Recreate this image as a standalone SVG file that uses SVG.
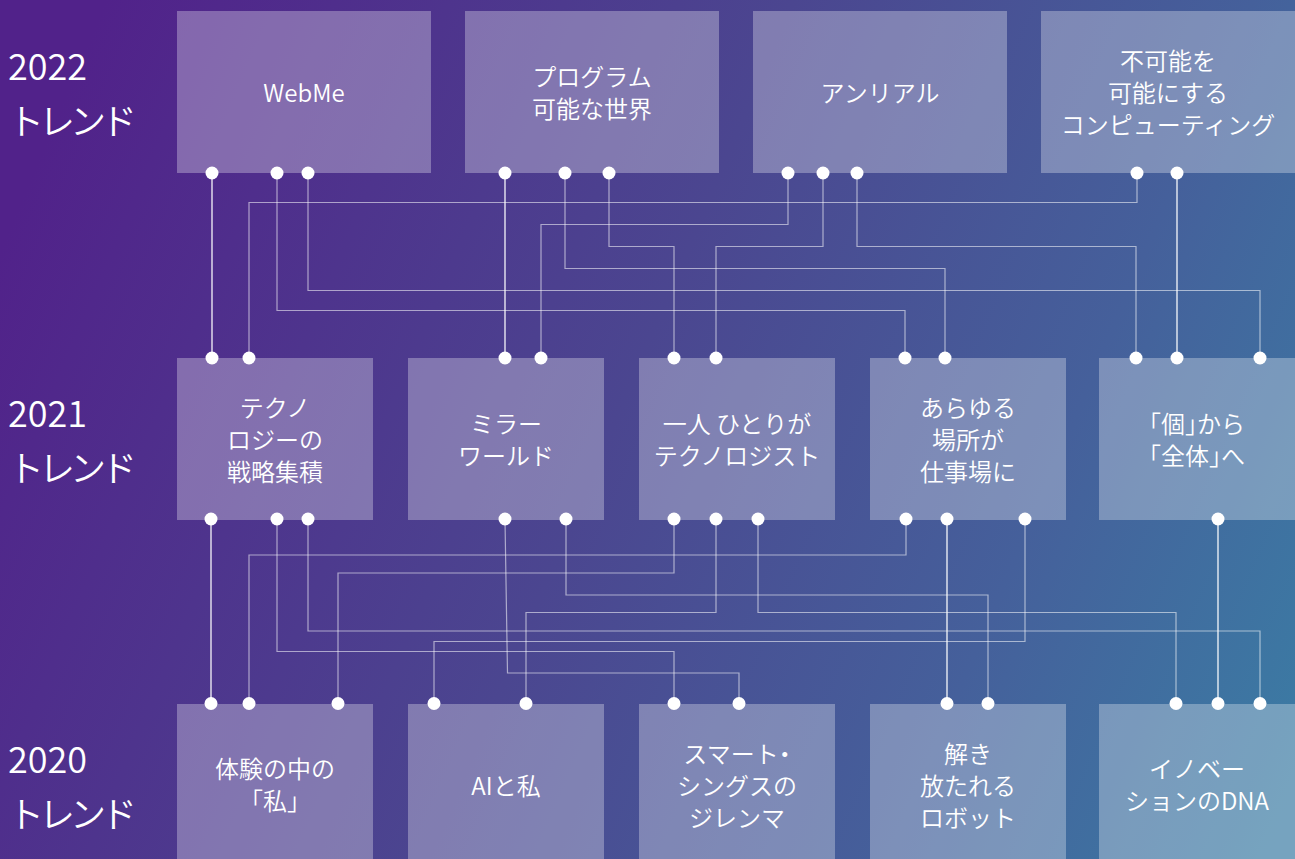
<svg xmlns="http://www.w3.org/2000/svg" width="1295" height="859" viewBox="0 0 1295 859">
<defs>
<linearGradient id="bg" gradientUnits="userSpaceOnUse" x1="0" y1="250" x2="1295" y2="800">
<stop offset="0" stop-color="#51228a"/>
<stop offset="0.45" stop-color="#4b4690"/>
<stop offset="0.75" stop-color="#45609b"/>
<stop offset="1" stop-color="#3b7ca4"/>
</linearGradient>
<style>
.box{fill:#ffffff;fill-opacity:0.3}
.lbl{font-family:"Noto Sans CJK JP","Noto Sans",sans-serif;font-size:24px;font-weight:350;fill:#ffffff;text-anchor:middle}
.yr{font-family:"Noto Sans CJK JP","Noto Sans",sans-serif;font-size:36px;font-weight:350;fill:#ffffff}
.yr2{letter-spacing:-5px}
.half{font-feature-settings:"halt"}
.ln{fill:none;stroke:#ffffff;stroke-opacity:0.55;stroke-width:1.2}
.st{fill:none;stroke:#ffffff;stroke-opacity:0.95;stroke-width:1.3}
.dot{fill:#ffffff}
</style>
</defs>
<rect x="0" y="0" width="1295" height="859" fill="url(#bg)"/>

<g id="year-labels">
<text class="yr" x="8" y="80">2022</text>
<text class="yr yr2" x="8" y="135">トレンド</text>
<text class="yr" x="8" y="427">2021</text>
<text class="yr yr2" x="8" y="482">トレンド</text>
<text class="yr" x="8" y="773">2020</text>
<text class="yr yr2" x="8" y="828">トレンド</text>
</g>

<g id="n-webme"><rect class="box" x="177" y="11" width="254" height="162"/><text class="lbl" x="304" y="102">WebMe</text></g>
<g id="n-program"><rect class="box" x="465" y="11" width="254" height="162"/><text class="lbl" x="592"><tspan x="592" y="86">プログラム</tspan><tspan x="592" y="118">可能な世界</tspan></text></g>
<g id="n-unreal"><rect class="box" x="753" y="11" width="254" height="162"/><text class="lbl" x="880" y="102">アンリアル</text></g>
<g id="n-computing"><rect class="box" x="1041" y="11" width="254" height="162"/><text class="lbl" x="1168"><tspan x="1168" y="70">不可能を</tspan><tspan x="1168" y="102">可能にする</tspan><tspan x="1168" y="134">コンピューティング</tspan></text></g>

<g id="n-tech"><rect class="box" x="177" y="358" width="196" height="162"/><text class="lbl"><tspan x="275" y="417">テクノ</tspan><tspan x="275" y="449">ロジーの</tspan><tspan x="275" y="481">戦略集積</tspan></text></g>
<g id="n-mirror"><rect class="box" x="408" y="358" width="196" height="162"/><text class="lbl"><tspan x="506" y="433">ミラー</tspan><tspan x="506" y="465">ワールド</tspan></text></g>
<g id="n-technologist"><rect class="box" x="639" y="358" width="196" height="162"/><text class="lbl"><tspan x="737" y="433">一人 ひとりが</tspan><tspan x="737" y="465">テクノロジスト</tspan></text></g>
<g id="n-workplace"><rect class="box" x="870" y="358" width="196" height="162"/><text class="lbl"><tspan x="968" y="417">あらゆる</tspan><tspan x="968" y="449">場所が</tspan><tspan x="968" y="481">仕事場に</tspan></text></g>
<g id="n-whole"><rect class="box" x="1099" y="358" width="196" height="162"/><text class="lbl half"><tspan x="1197" y="433">「個」から</tspan><tspan x="1197" y="465">「全体」へ</tspan></text></g>

<g id="n-experience"><rect class="box" x="177" y="704" width="196" height="162"/><text class="lbl half"><tspan x="275" y="778">体験の中の</tspan><tspan x="275" y="810">「私」</tspan></text></g>
<g id="n-ai"><rect class="box" x="408" y="704" width="196" height="162"/><text class="lbl" x="506" y="795">AIと私</text></g>
<g id="n-smart"><rect class="box" x="639" y="704" width="196" height="162"/><text class="lbl half"><tspan x="737" y="763">スマート・</tspan><tspan x="737" y="795">シングスの</tspan><tspan x="737" y="827">ジレンマ</tspan></text></g>
<g id="n-robot"><rect class="box" x="870" y="704" width="196" height="162"/><text class="lbl"><tspan x="968" y="763">解き</tspan><tspan x="968" y="795">放たれる</tspan><tspan x="968" y="827">ロボット</tspan></text></g>
<g id="n-dna"><rect class="box" x="1099" y="704" width="196" height="162"/><text class="lbl"><tspan x="1197" y="778">イノベー</tspan><tspan x="1197" y="810">ションのDNA</tspan></text></g>

<g id="connectors">
<path class="st" d="M212,173V358M505,173V358M1177,173V358"/>
<path class="ln" d="M1137,173V202.5H249V358"/>
<path class="ln" d="M788,173V224.5H541V358"/>
<path class="ln" d="M609,173V246.5H674V358"/>
<path class="ln" d="M823,173V246.5H716V358"/>
<path class="ln" d="M857,173V246.5H1136V358"/>
<path class="ln" d="M565,173V268.5H945V358"/>
<path class="ln" d="M308,173V290.5H1260V358"/>
<path class="ln" d="M277,173V310.5H905V358"/>

<path class="st" d="M211,520V704M947,520V704M1218,520V704"/>
<path class="ln" d="M906,520V555H249V704"/>
<path class="ln" d="M674,520V573H338V704"/>
<path class="ln" d="M566,520V595H988V704"/>
<path class="ln" d="M716,520V612.5H526V704"/>
<path class="ln" d="M758,520V612.5H1176V704"/>
<path class="ln" d="M308,520V631H1260V704"/>
<path class="ln" d="M1025,520V641.5H434V704"/>
<path class="ln" d="M277,520V651.5H674V704"/>
<path class="ln" d="M505,520L507.5,673H739V704"/>

<g class="dot">
<circle cx="212" cy="173" r="6.5"/><circle cx="277" cy="173" r="6.5"/><circle cx="308" cy="173" r="6.5"/>
<circle cx="505" cy="173" r="6.5"/><circle cx="565" cy="173" r="6.5"/><circle cx="609" cy="173" r="6.5"/>
<circle cx="788" cy="173" r="6.5"/><circle cx="823" cy="173" r="6.5"/><circle cx="857" cy="173" r="6.5"/>
<circle cx="1137" cy="173" r="6.5"/><circle cx="1177" cy="173" r="6.5"/>

<circle cx="212" cy="358" r="6.5"/><circle cx="249" cy="358" r="6.5"/><circle cx="505" cy="358" r="6.5"/><circle cx="541" cy="358" r="6.5"/>
<circle cx="674" cy="358" r="6.5"/><circle cx="716" cy="358" r="6.5"/><circle cx="905" cy="358" r="6.5"/><circle cx="945" cy="358" r="6.5"/>
<circle cx="1136" cy="358" r="6.5"/><circle cx="1177" cy="358" r="6.5"/><circle cx="1260" cy="358" r="6.5"/>

<circle cx="211" cy="519" r="6.5"/><circle cx="277" cy="519" r="6.5"/><circle cx="308" cy="519" r="6.5"/><circle cx="505" cy="519" r="6.5"/>
<circle cx="566" cy="519" r="6.5"/><circle cx="674" cy="519" r="6.5"/><circle cx="716" cy="519" r="6.5"/><circle cx="758" cy="519" r="6.5"/>
<circle cx="906" cy="519" r="6.5"/><circle cx="947" cy="519" r="6.5"/><circle cx="1025" cy="519" r="6.5"/><circle cx="1218" cy="519" r="6.5"/>

<circle cx="211" cy="703.5" r="6.5"/><circle cx="249" cy="703.5" r="6.5"/><circle cx="338" cy="703.5" r="6.5"/><circle cx="434" cy="703.5" r="6.5"/>
<circle cx="526" cy="703.5" r="6.5"/><circle cx="674" cy="703.5" r="6.5"/><circle cx="739" cy="703.5" r="6.5"/><circle cx="947" cy="703.5" r="6.5"/>
<circle cx="988" cy="703.5" r="6.5"/><circle cx="1176" cy="703.5" r="6.5"/><circle cx="1218" cy="703.5" r="6.5"/><circle cx="1260" cy="703.5" r="6.5"/>
</g>
</g>
</svg>
